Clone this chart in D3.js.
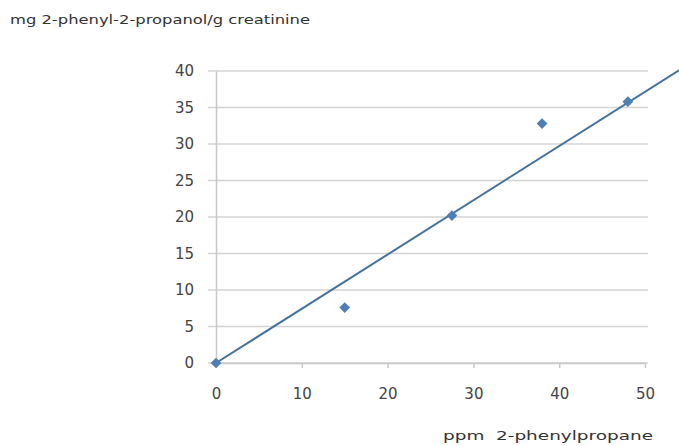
<!DOCTYPE html>
<html><head><meta charset="utf-8">
<script src="https://cdn.jsdelivr.net/npm/d3@7"></script>
<style>body{margin:0;background:#fff;} svg{display:block;}</style>
</head><body>
<script>
const xValues = [0, 15, 27.5, 38, 48];
const yValues = [0, 7.6, 20.2, 32.8, 35.8];
const xTicks = [0, 10, 20, 30, 40, 50];
const yTicks = [0, 5, 10, 15, 20, 25, 30, 35, 40];
const trendSlope = 0.743;
const yTitle = "mg 2-phenyl-2-propanol/g creatinine";
const xTitle = "ppm  2-phenylpropane";

const W = 679, H = 446;
const svg = d3.select("body").append("svg").attr("width", W).attr("height", H);
const x = d3.scaleLinear().domain([0, 50]).range([216, 645]);
const y = d3.scaleLinear().domain([0, 40]).range([363, 71]);
const font = "'DejaVu Sans', Verdana, sans-serif";

// gridlines
svg.append("g").selectAll("line").data(yTicks).join("line")
  .attr("x1", 208).attr("x2", 648)
  .attr("y1", d => y(d)).attr("y2", d => y(d))
  .attr("stroke", "#d4d4d4").attr("stroke-width", 1.5);

// y axis
const ya = svg.append("g").attr("transform", "translate(216,0)")
  .call(d3.axisLeft(y).tickValues(yTicks).tickSize(0).tickPadding(22));
ya.select(".domain").attr("stroke", "#c8c8c8").attr("stroke-width", 1.5);
ya.selectAll("text").attr("font-family", font).attr("font-size", 15).attr("fill", "#444");

// x axis
const xa = svg.append("g").attr("transform", "translate(0,363)")
  .call(d3.axisBottom(x).tickValues(xTicks).tickSize(5).tickPadding(20).tickSizeOuter(0));
xa.select(".domain").attr("stroke", "#c8c8c8").attr("stroke-width", 1.5);
xa.selectAll(".tick line").attr("stroke", "#c8c8c8").attr("stroke-width", 1.5);
xa.selectAll("text").attr("font-family", font).attr("font-size", 15).attr("fill", "#444");

// trend line
const xEnd = x.invert(W);
svg.append("line")
  .attr("x1", x(0)).attr("y1", y(0))
  .attr("x2", x(xEnd)).attr("y2", y(trendSlope * xEnd))
  .attr("stroke", "#44729f").attr("stroke-width", 2);

// points (rotated squares)
svg.append("g").selectAll("rect").data(xValues.map((v, i) => [v, yValues[i]])).join("rect")
  .attr("x", -3.8).attr("y", -3.8).attr("width", 7.6).attr("height", 7.6)
  .attr("transform", d => `translate(${x(d[0])},${y(d[1])}) rotate(45)`)
  .attr("fill", "#4f7db8");

// titles
svg.append("text").attr("x", 10).attr("y", 24).text(yTitle)
  .attr("font-family", font).attr("font-size", 13).attr("fill", "#333")
  .attr("textLength", 300).attr("lengthAdjust", "spacingAndGlyphs");
svg.append("text").attr("x", 443).attr("y", 440).text(xTitle)
  .attr("font-family", font).attr("font-size", 12).attr("fill", "#333")
  .attr("textLength", 210).attr("lengthAdjust", "spacingAndGlyphs")
  .style("white-space", "pre");
</script>
</body></html>
